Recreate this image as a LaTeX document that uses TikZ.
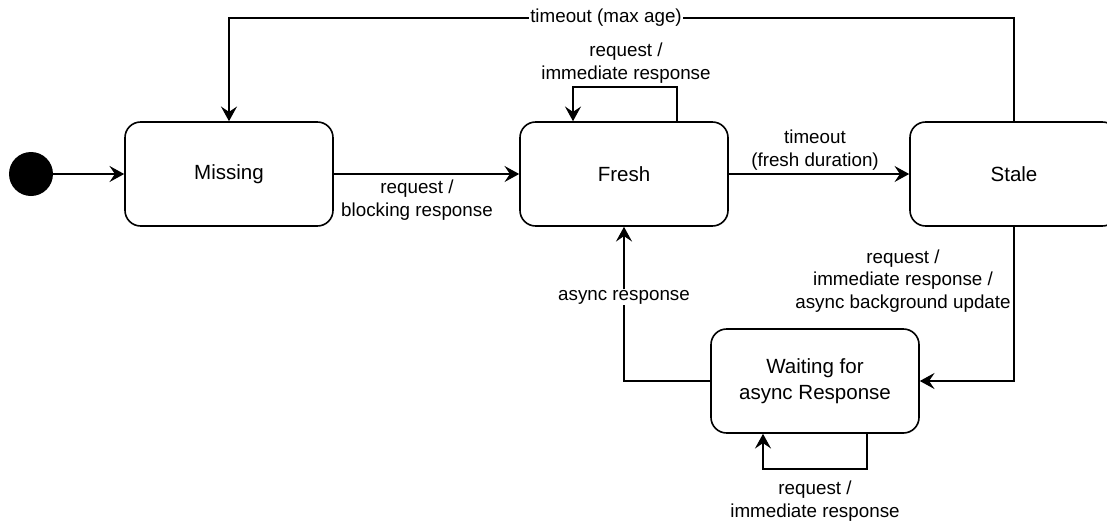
\documentclass[tikz,border=0pt]{standalone}
\usepackage{fontspec}
\setmainfont{Liberation Sans}
\usetikzlibrary{arrows.meta}
\begin{document}
\begin{tikzpicture}[x=0.75pt,y=-0.75pt,
  state/.style={draw,rounded corners=11.7pt,line width=1.2pt,minimum width=156pt,minimum height=78pt,align=center,font=\fontsize{15.4}{19.5}\selectfont,inner sep=0pt},
  lbl/.style={align=center,font=\fontsize{14.1}{16.9}\selectfont,inner sep=1pt},
  conn/.style={line width=1.2pt,-{Stealth[length=11pt,width=12pt,inset=4pt]}},
]
\clip (0,0) rectangle (1107,525);
\node[circle,fill=black,minimum size=33pt,inner sep=0pt] (init) at (31,174) {};
\node[state] (missing) at (229,174) {\raisebox{-1.5pt}{Missing}};
\node[state] (fresh) at (624,174) {Fresh};
\node[state] (stale) at (1014,174) {Stale};
\node[state] (wait) at (815,381) {Waiting for\\async Response};
\coordinate (topy) at (0,18);

\draw[conn] (init) -- (missing);
\draw[conn] (missing) -- (fresh);
\draw[conn] (fresh) -- (stale);
\draw[conn] (stale.north) -- (stale.north |- topy) -- (missing.north |- topy) -- (missing.north);
\draw[conn] ([xshift=39.75pt]fresh.north) -- ++(0,-34) -| ([xshift=-38.25pt]fresh.north);
\draw[conn] (stale.south) |- (wait.east);
\draw[conn] (wait.west) -| (fresh.south);
\draw[conn] ([xshift=39pt]wait.south) -- ++(0,35) -| ([xshift=-39pt]wait.south);

\node[lbl] (l1) at (417,200) {request /\\blocking response};
\node[lbl] (l2) at (815,150) {timeout\\(fresh duration)};
\node[lbl] (l3) at (626,63) {request /\\immediate response};
\node[lbl,fill=white] (l4) at (606,18) {timeout (max age)};
\node[lbl,fill=white] (l5) at (624,297) {async response};
\node[lbl] (l6) at (903,281) {request /\\immediate response /\\async background update};
\node[lbl] (l7) at (815,501) {request /\\immediate response};
\end{tikzpicture}
\end{document}
